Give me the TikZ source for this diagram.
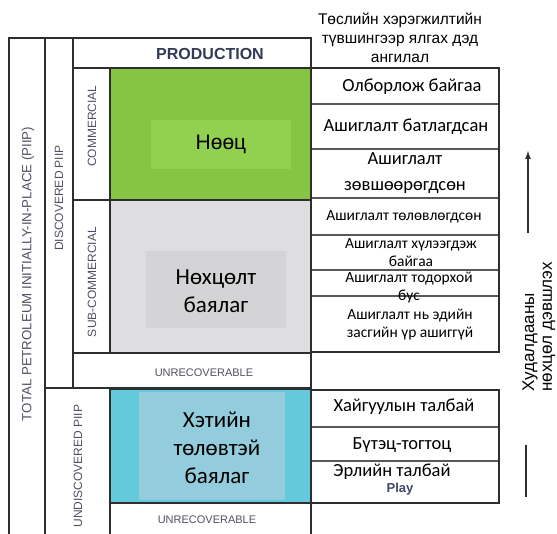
\documentclass[tikz,border=0pt]{standalone}
\usepackage{fontspec}
\setmainfont{Liberation Sans}
\newfontfamily\calib{Carlito}
\usetikzlibrary{arrows.meta}
\definecolor{lineC}{HTML}{2E2E2E}
\definecolor{labC}{HTML}{505064}
\definecolor{grOut}{HTML}{86C446}
\definecolor{grIn}{HTML}{92D050}
\definecolor{gyOut}{HTML}{DEDEE0}
\definecolor{gyIn}{HTML}{D4D4D6}
\definecolor{blOut}{HTML}{64C9DB}
\definecolor{blIn}{HTML}{93CCDC}
\definecolor{playC}{HTML}{3F4A6A}
\tikzset{
  frame/.style={draw=lineC, line width=1.7pt},
  thin row/.style={draw=lineC!80, line width=1.1pt},
  thick box/.style={draw=lineC, line width=2.6pt},
  vlab/.style={rotate=90, text=labC, font=\fontsize{12}{14}\selectfont, inner sep=0pt},
  unrec/.style={text=labC, font=\fontsize{11}{13}\selectfont, inner sep=0pt},
  cell/.style={font=\calib\fontsize{18.5}{20}\selectfont, align=center, inner sep=0pt},
  smallcell/.style={font=\calib\fontsize{15.5}{18}\selectfont, align=center, inner sep=0pt},
  big/.style={font=\calib\fontsize{23}{28}\selectfont, align=center, inner sep=0pt},
}
\begin{document}
\begin{tikzpicture}[x=1pt,y=-1pt]
\useasboundingbox (0,0) rectangle (557,534);
% fills
\fill[grOut] (110,68) rectangle (311,200);
\fill[grIn] (151,120) rectangle (291,169);
\fill[gyOut] (110,200) rectangle (311,353);
\fill[gyIn] (146,251) rectangle (286,328);
\fill[blOut] (110,388) rectangle (311,503);
\fill[blIn] (139,392) rectangle (285,500);
% frame lines
\draw[frame] (9,534) -- (9,38) -- (311,38) -- (311,534);
\draw[frame] (45,38) -- (45,534);
\draw[frame] (73,38) -- (73,388);
\draw[frame] (73,68) -- (311,68);
\draw[frame] (73,200) -- (110,200);
\draw[frame] (73,353) -- (311,353);
\draw[frame] (45,388) -- (311,388);
\draw[frame] (110,68) -- (110,353);
\draw[frame] (110,388) -- (110,534);
\draw[frame] (110,503) -- (311,503);
% thick box borders
\draw[thick box] (110,68) rectangle (311,200);
\draw[thick box] (110,200) rectangle (311,353);
\draw[thick box] (110,389) rectangle (311,503);
% right tables
\draw[thin row] (311,104) -- (499,104);
\draw[thin row] (311,149) -- (499,149);
\draw[thin row] (311,198) -- (499,198);
\draw[thin row] (311,235) -- (499,235);
\draw[thin row] (311,270) -- (499,270);
\draw[thin row] (311,296) -- (499,296);
\draw[thick box] (311,68) rectangle (499,352);
\draw[thin row] (311,427) -- (499,427);
\draw[thin row] (311,461) -- (499,461);
\draw[thick box] (311,390) rectangle (499,503);
% left labels
\node[vlab, font=\fontsize{13.3}{15}\selectfont] (total) at (28,274) {TOTAL PETROLEUM INITIALLY-IN-PLACE (PIIP)};
\node[vlab] (disc) at (59,198) {DISCOVERED PIIP};
\node[vlab] (comm) at (92,126) {COMMERCIAL};
\node[vlab] (subc) at (92,282) {SUB-COMMERCIAL};
\node[vlab] (undisc) at (78,466) {UNDISCOVERED PIIP};
\node[unrec] (unrec1) at (204,373) {UNRECOVERABLE};
\node[unrec] (unrec2) at (207,520) {UNRECOVERABLE};
\node[font=\bfseries\fontsize{16}{18}\selectfont, text=playC!80!black, inner sep=0pt] (prod) at (210,54) {PRODUCTION};
% central texts
\node[font=\fontsize{21}{24}\selectfont, inner sep=0pt] (reserve) at (221,144) {Нөөц};
\node[big] (contingent) at (216,291) {Нөхцөлт\\баялаг};
\node[big] (prospective) at (217,448) {Хэтийн\\төлөвтэй\\баялаг};
% header
\node[font=\fontsize{15.5}{19}\selectfont, align=center, inner sep=0pt] (head) at (400,38) {Төслийн хэрэгжилтийн\\түвшингээр ялгах дэд\\ангилал};
% right table texts
\node[cell] (r1) at (412,87) {Олборлож байгаа};
\node[cell] (r2) at (406,127) {Ашиглалт батлагдсан};
\node[cell, font=\calib\fontsize{18.5}{26}\selectfont] (r3) at (405,173) {Ашиглалт\\зөвшөөрөгдсөн};
\node[smallcell] (r4) at (404,217) {Ашиглалт төлөвлөгдсөн};
\node[smallcell] (r5) at (411,253) {Ашиглалт хүлээгдэж\\байгаа};
\node[smallcell] (r6) at (409,288) {Ашиглалт тодорхой\\бус};
\node[smallcell] (r7) at (410,325) {Ашиглалт нь эдийн\\засгийн үр ашиггүй};
\node[cell] (r8) at (404,407) {Хайгуулын талбай};
\node[cell] (r9) at (402,445) {Бүтэц-тогтоц};
\node[cell] (r10) at (392,472) {Эрлийн талбай};
\node[font=\bfseries\fontsize{13}{15}\selectfont, text=playC, inner sep=0pt] (play) at (400,489) {Play};
% arrow and line
\coordinate (arrB) at (528,233);
\coordinate (arrT) at (528,150);
\draw[lineC, line width=1.8pt, -{Latex[length=9pt,width=6pt]}] (arrB) -- (arrT);
\coordinate (lnT) at (526,445);
\coordinate (lnB) at (526,497);
\draw[lineC, line width=1.8pt] (lnT) -- (lnB);
\node[rotate=90, anchor=west, font=\fontsize{17}{19}\selectfont, inner sep=0pt] (trade1) at (530,392) {Худалдааны};
\node[rotate=90, anchor=west, font=\fontsize{17}{19}\selectfont, inner sep=0pt] (trade2) at (549,392) {нөхцөл дэвшлэх};
\end{tikzpicture}
\end{document}
